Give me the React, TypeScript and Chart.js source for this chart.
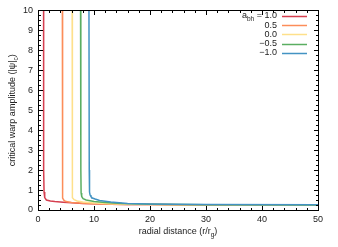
import React, { useEffect, useRef } from "react";
import { Chart, registerables } from "chart.js";
Chart.register(...registerables);

const spinLabels = ["1.0", "0.5", "0.0", "−0.5", "−1.0"];
const lineColors = ["#d53e4f", "#fc8d59", "#fee08b", "#5aae61", "#4393c3"];

const xRed = [1.0, 1.0, 1.02, 1.08, 1.2, 1.5, 2.2, 3, 4.5, 6, 8, 10, 13, 16, 20, 25, 30, 40, 50];
const yRed = [10, 5, 2, 0.9, 0.62, 0.5, 0.45, 0.42, 0.39, 0.36, 0.33, 0.31, 0.29, 0.28, 0.27, 0.26, 0.255, 0.25, 0.245];
const xOrange = [4.35, 4.35, 4.38, 4.45, 4.65, 5, 6, 8, 10, 13, 16, 20, 30, 50];
const yOrange = [10, 2, 0.8, 0.6, 0.48, 0.42, 0.38, 0.34, 0.31, 0.29, 0.28, 0.27, 0.255, 0.25];
const xYellow = [6.1, 6.1, 6.13, 6.2, 6.45, 7, 8, 10, 13, 16, 20, 30, 50];
const yYellow = [10, 2, 0.8, 0.62, 0.52, 0.45, 0.4, 0.35, 0.31, 0.29, 0.275, 0.26, 0.25];
const xGreen = [7.6, 7.65, 7.7, 7.8, 8.05, 8.6, 10, 12, 15, 20, 30, 50];
const yGreen = [10, 2, 0.85, 0.68, 0.57, 0.5, 0.43, 0.37, 0.32, 0.29, 0.265, 0.255];
const xBlue = [9.1, 9.15, 9.2, 9.3, 9.45, 9.7, 10.2, 11, 13, 16, 20, 30, 50];
const yBlue = [10, 2, 0.9, 0.75, 0.68, 0.6, 0.55, 0.48, 0.4, 0.33, 0.3, 0.27, 0.26];

const seriesX = [xRed, xOrange, xYellow, xGreen, xBlue];
const seriesY = [yRed, yOrange, yYellow, yGreen, yBlue];

const FONT = "'Liberation Sans', Arial, sans-serif";
const TEXT = "#222";

type Part = { t: string; sub?: boolean };

function richWidth(ctx: CanvasRenderingContext2D, parts: Part[]) {
  let w = 0;
  for (const p of parts) {
    ctx.font = p.sub ? `6.5px ${FONT}` : `9px ${FONT}`;
    w += ctx.measureText(p.t).width;
  }
  return w;
}

function drawRich(ctx: CanvasRenderingContext2D, parts: Part[], x: number, y: number, align: "left" | "right" | "center") {
  const w = richWidth(ctx, parts);
  let cx = align === "left" ? x : align === "right" ? x - w : x - w / 2;
  ctx.textAlign = "left";
  ctx.textBaseline = "middle";
  ctx.fillStyle = TEXT;
  for (const p of parts) {
    ctx.font = p.sub ? `6.5px ${FONT}` : `9px ${FONT}`;
    ctx.fillText(p.t, cx, p.sub ? y + 3 : y);
    cx += ctx.measureText(p.t).width;
  }
}

const framePlugin = {
  id: "frame",
  afterDraw(chart: any) {
    const ctx: CanvasRenderingContext2D = chart.ctx;
    const { left, right, top, bottom } = chart.chartArea;
    const xs = chart.scales.x;
    const ys = chart.scales.y;
    ctx.save();
    ctx.strokeStyle = "#000";
    ctx.lineWidth = 1;
    const L = Math.round(left) + 0.5, R = Math.round(right) + 0.5;
    const T = Math.round(top) + 0.5, B = Math.round(bottom) + 0.5;
    ctx.strokeRect(L, T, R - L, B - T);
    ctx.beginPath();
    for (let v = 0; v <= 50; v += 2) {
      const px = Math.round(xs.getPixelForValue(v)) + 0.5;
      const len = v % 10 === 0 ? 4.5 : 2.5;
      ctx.moveTo(px, B); ctx.lineTo(px, B - len);
      ctx.moveTo(px, T); ctx.lineTo(px, T + len);
    }
    for (let i = 0; i <= 40; i++) {
      const v = i * 0.25;
      const py = Math.round(ys.getPixelForValue(v)) + 0.5;
      const len = i % 4 === 0 ? 4.5 : 2.5;
      ctx.moveTo(L, py); ctx.lineTo(L + len, py);
      ctx.moveTo(R, py); ctx.lineTo(R - len, py);
    }
    ctx.stroke();

    // axis titles
    drawRich(ctx, [{ t: "radial distance (r/r" }, { t: "g", sub: true }, { t: ")" }], (left + right) / 2, 232, "center");
    ctx.save();
    ctx.translate(13, (top + bottom) / 2);
    ctx.rotate(-Math.PI / 2);
    drawRich(ctx, [{ t: "critical warp amplitude (|ψ|" }, { t: "c", sub: true }, { t: ")" }], 0, 0, "center");
    ctx.restore();

    // legend
    const rowY0 = 16, rowH = 9.2, textR = 277, lx0 = 282, lx1 = 307;
    spinLabels.forEach((lab, i) => {
      const y = rowY0 + i * rowH;
      if (i === 0) {
        drawRich(ctx, [{ t: "a" }, { t: "bh", sub: true }, { t: " = " + lab }], textR, y, "right");
      } else {
        drawRich(ctx, [{ t: lab }], textR, y, "right");
      }
      ctx.strokeStyle = lineColors[i];
      ctx.lineWidth = 1.5;
      ctx.beginPath();
      ctx.moveTo(lx0, Math.round(y) + 0.5);
      ctx.lineTo(lx1, Math.round(y) + 0.5);
      ctx.stroke();
    });
    ctx.restore();
  },
};

export default function App() {
  const ref = useRef<HTMLCanvasElement>(null);
  useEffect(() => {
    if (!ref.current) return;
    const datasets = seriesX.map((xsArr, i) => ({
      label: spinLabels[i],
      data: xsArr.map((x, j) => ({ x, y: seriesY[i][j] })),
      borderColor: lineColors[i],
      backgroundColor: lineColors[i],
      borderWidth: 1.5,
      pointRadius: 0,
      tension: 0,
      fill: false,
      order: 4 - i,
    }));
    const chart = new Chart(ref.current, {
      type: "line",
      data: { datasets },
      options: {
        animation: false,
        responsive: false,
        maintainAspectRatio: false,
        layout: { padding: { top: 10, right: 20, left: 0, bottom: 0 } },
        plugins: { legend: { display: false }, tooltip: { enabled: false } },
        scales: {
          x: {
            type: "linear",
            min: 0,
            max: 50,
            grid: { display: false, drawTicks: false },
            border: { display: false },
            ticks: { stepSize: 10, padding: 4, color: TEXT, font: { family: FONT, size: 9 }, maxRotation: 0 },
            afterFit: (s: any) => { s.height = 37; },
          },
          y: {
            type: "linear",
            min: 0,
            max: 10,
            grid: { display: false, drawTicks: false },
            border: { display: false },
            ticks: { stepSize: 1, padding: 5, color: TEXT, font: { family: FONT, size: 9 } },
            afterFit: (s: any) => { s.width = 38; },
          },
        },
      },
      plugins: [framePlugin],
    });
    return () => chart.destroy();
  }, []);
  return (
    <div style={{ position: "fixed", left: 0, top: 0, width: 338, height: 247, background: "#fff" }}>
      <canvas ref={ref} width={338} height={247} style={{ width: 338, height: 247 }} />
    </div>
  );
}
